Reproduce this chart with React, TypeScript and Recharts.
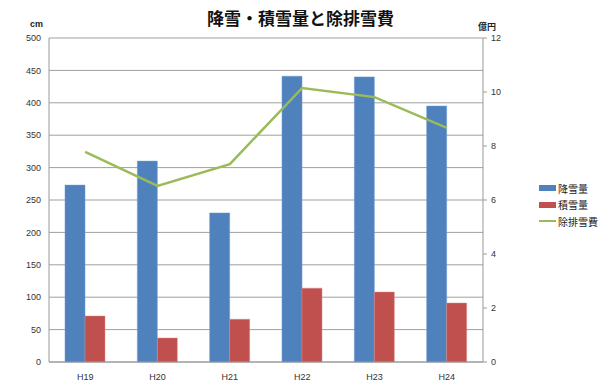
import { Bar, CartesianGrid, ComposedChart, Legend, Line, XAxis, YAxis } from 'recharts'

const years = ['H19', 'H20', 'H21', 'H22', 'H23', 'H24']
const snowfall = [273, 310, 230, 441, 440, 395]
const snowDepth = [71, 37, 66, 114, 108, 91]
const removalCost = [7.78, 6.52, 7.33, 10.15, 9.81, 8.67]

const leftTicks = [0, 50, 100, 150, 200, 250, 300, 350, 400, 450, 500]
const rightTicks = [0, 2, 4, 6, 8, 10, 12]

const data = years.map((year, i) => ({
  year,
  snowfall: snowfall[i],
  snowDepth: snowDepth[i],
  removalCost: removalCost[i],
}))

const font = '"Liberation Sans", Arial, sans-serif'
const jpFont = '"Noto Sans CJK JP", sans-serif'

const legendItems = [
  { label: '降雪量', color: '#4F81BD', kind: 'bar' },
  { label: '積雪量', color: '#C0504D', kind: 'bar' },
  { label: '除排雪費', color: '#9BBB59', kind: 'line' },
]

function SideLegend() {
  return (
    <div style={{ fontFamily: jpFont, fontSize: 10, color: '#222' }}>
      {legendItems.map((item) => (
        <div key={item.label} style={{ display: 'flex', alignItems: 'center', height: 16.5 }}>
          <span
            style={{
              display: 'inline-block',
              width: 17,
              height: item.kind === 'bar' ? 6 : 2,
              background: item.color,
              marginRight: 2,
            }}
          />
          <span>{item.label}</span>
        </div>
      ))}
    </div>
  )
}

export default function App() {
  return (
    <div style={{ position: 'absolute', left: 0, top: 0, width: 601, height: 384, background: '#fff' }}>
      <div
        style={{
          position: 'absolute',
          left: 0,
          top: 5,
          width: 601,
          textAlign: 'center',
          fontFamily: jpFont,
          fontWeight: 'bold',
          fontSize: 17,
          color: '#111',
        }}
      >
        降雪・積雪量と除排雪費
      </div>
      <ComposedChart
        width={601}
        height={384}
        data={data}
        margin={{ top: 38, right: 58, bottom: 0, left: 0 }}
        barGap={0}
      >
        <CartesianGrid vertical={false} stroke="#a0a0a0" yAxisId="left" />
        <XAxis
          dataKey="year"
          height={22}
          tickLine={false}
          tickMargin={6}
          stroke="#999"
          tick={{ fontSize: 9, fill: '#333', fontFamily: font }}
        />
        <YAxis
          yAxisId="left"
          width={49}
          domain={[0, 500]}
          ticks={leftTicks}
          tickLine={false}
          stroke="#999"
          tick={{ fontSize: 9, fill: '#333', fontFamily: font }}
          label={{ value: 'cm', position: 'top', offset: 11, dx: 12, fontSize: 9, fill: '#222', fontWeight: 'bold', fontFamily: font }}
        />
        <YAxis
          yAxisId="right"
          orientation="right"
          width={60}
          domain={[0, 12]}
          ticks={rightTicks}
          tickSize={4}
          tickMargin={4}
          stroke="#999"
          tick={{ fontSize: 9, fill: '#333', fontFamily: font }}
          label={{ value: '億円', position: 'top', offset: 8, dx: -26, fontSize: 9, fill: '#222', fontWeight: 'bold', fontFamily: jpFont }}
        />
        <Legend
          layout="horizontal"
          verticalAlign="middle"
          align="center"
          content={() => <SideLegend />}
          wrapperStyle={{ left: 539, top: 180, width: 62 }}
        />
        <Bar yAxisId="left" dataKey="snowfall" name="降雪量" fill="#4F81BD" stroke="#6f9bd1" strokeWidth={0.5} barSize={20} isAnimationActive={false} />
        <Bar yAxisId="left" dataKey="snowDepth" name="積雪量" fill="#C0504D" stroke="#d98b88" strokeWidth={0.5} barSize={20} isAnimationActive={false} />
        <Line
          yAxisId="right"
          dataKey="removalCost"
          name="除排雪費"
          stroke="#9BBB59"
          strokeWidth={2.5}
          dot={false}
          type="linear"
          isAnimationActive={false}
        />
      </ComposedChart>
    </div>
  )
}
